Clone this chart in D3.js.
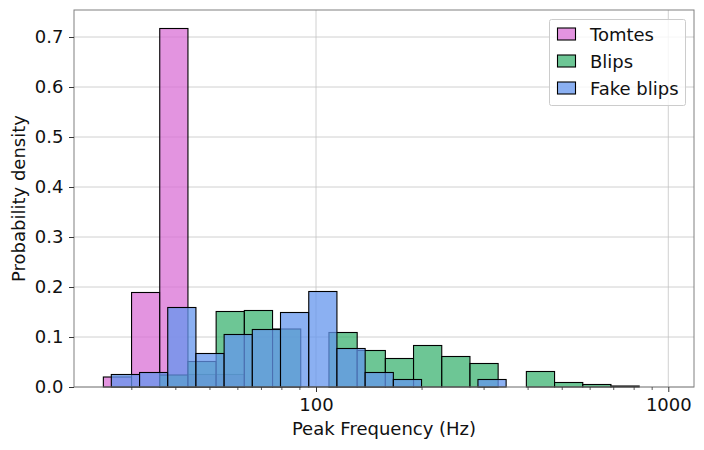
<!DOCTYPE html>
<html><head><meta charset="utf-8">
<script src="https://cdn.jsdelivr.net/npm/d3@7"></script>
<style>body{margin:0;background:#fff}svg{display:block;font-family:"DejaVu Sans",sans-serif}</style>
</head><body><svg id="c" width="704" height="450"></svg>
<script>
// Bin edges (Hz) and densities
const tomteEdges = [24.91, 29.95, 36.01, 43.30, 52.06, 62.60];
const tomteValues = [0.020, 0.189, 0.717, 0.025, 0.025];

const blipEdges = [36.01, 43.30, 52.06, 62.60, 75.27, 90.51, 108.82, 130.88, 157.35, 189.17, 227.47, 273.53, 328.85, 395.5, 475.5, 571.8, 687.5, 826.7];
const blipValues = [0.024, 0.051, 0.151, 0.153, 0.116, 0.0, 0.109, 0.073, 0.057, 0.083, 0.061, 0.047, 0.0, 0.031, 0.009, 0.005, 0.002];

const fakeEdges = [26.24, 31.56, 37.94, 45.62, 54.85, 65.95, 79.29, 95.37, 114.66, 137.89, 165.79, 199.34, 239.68, 288.2, 346.5];
const fakeValues = [0.025, 0.029, 0.159, 0.067, 0.105, 0.115, 0.149, 0.191, 0.077, 0.029, 0.015, 0.0, 0.0, 0.015];

const seriesNames = ["Tomtes", "Blips", "Fake blips"];
const seriesColors = ["orchid", "mediumseagreen", "cornflowerblue"];
const yTicks = [0.0, 0.1, 0.2, 0.3, 0.4, 0.5, 0.6, 0.7];
const xMajor = [100, 1000];
const xMinor = [30, 40, 50, 60, 70, 80, 90, 200, 300, 400, 500, 600, 700, 800, 900];

const series = [
  {edges: tomteEdges, values: tomteValues},
  {edges: blipEdges, values: blipValues},
  {edges: fakeEdges, values: fakeValues}
];

const L = 74, R = 694, T = 10, B = 387;
const x = d3.scaleLog().domain([20.56, 1183]).range([L, R]);
const y = d3.scaleLinear().domain([0, 0.754]).range([B, T]);
const svg = d3.select("#c");
const fs = 18;

// grid
const g = svg.append("g");
g.selectAll("line.gy").data(yTicks).enter().append("line")
  .attr("x1", L).attr("x2", R).attr("y1", d => y(d)).attr("y2", d => y(d))
  .attr("stroke", "#c4c4c4").attr("stroke-width", 0.8);
g.selectAll("line.gx").data(xMajor).enter().append("line")
  .attr("x1", d => x(d)).attr("x2", d => x(d)).attr("y1", T).attr("y2", B)
  .attr("stroke", "#c4c4c4").attr("stroke-width", 0.8);

// bars
series.forEach((s, i) => {
  const bins = s.values.map((v, j) => ({x0: s.edges[j], x1: s.edges[j + 1], v}))
    .filter(b => b.v > 0);
  svg.append("g").selectAll("rect").data(bins).enter().append("rect")
    .attr("x", b => x(b.x0)).attr("width", b => x(b.x1) - x(b.x0))
    .attr("y", b => y(b.v)).attr("height", b => y(0) - y(b.v))
    .attr("fill", seriesColors[i]).attr("fill-opacity", 0.75)
    .attr("stroke", "#000").attr("stroke-width", 1.1);
});

// spines
svg.append("rect").attr("x", L).attr("y", T).attr("width", R - L).attr("height", B - T)
  .attr("fill", "none").attr("stroke", "#808080").attr("stroke-width", 1);

// y axis
const yAxis = d3.axisLeft(y).tickValues(yTicks).tickFormat(d3.format(".1f")).tickSize(5).tickPadding(5.5);
const ya = svg.append("g").attr("transform", `translate(${L},0)`).call(yAxis);
ya.select(".domain").remove();
ya.selectAll("text").attr("font-size", fs).attr("fill", "#111").attr("font-family", "DejaVu Sans");
ya.selectAll("line").attr("stroke", "#333");

// x axis
const xAxis = d3.axisBottom(x).tickValues(xMajor).tickFormat(d3.format("d")).tickSize(5).tickPadding(6);
const xa = svg.append("g").attr("transform", `translate(0,${B})`).call(xAxis);
xa.select(".domain").remove();
xa.selectAll("text").attr("font-size", fs).attr("fill", "#111").attr("font-family", "DejaVu Sans");
xa.selectAll("line").attr("stroke", "#333");
svg.append("g").selectAll("line").data(xMinor).enter().append("line")
  .attr("x1", d => x(d)).attr("x2", d => x(d)).attr("y1", B).attr("y2", B + 3)
  .attr("stroke", "#333").attr("stroke-width", 0.8);

// labels
svg.append("text").attr("x", (L + R) / 2).attr("y", 435).attr("text-anchor", "middle")
  .attr("font-size", fs).attr("fill", "#111").text("Peak Frequency (Hz)");
svg.append("text").attr("transform", `translate(25,${(T + B) / 2}) rotate(-90)`)
  .attr("text-anchor", "middle").attr("font-size", fs).attr("fill", "#111").text("Probability density");

// legend
const lg = svg.append("g");
lg.append("rect").attr("x", 549.5).attr("y", 19.5).attr("width", 136).attr("height", 86).attr("rx", 2)
  .attr("fill", "#fff").attr("fill-opacity", 0.8).attr("stroke", "#cccccc");
seriesNames.forEach((n, i) => {
  const cy = 34 + i * 27;
  lg.append("rect").attr("x", 557.5).attr("y", cy - 6).attr("width", 18).attr("height", 12)
    .attr("fill", seriesColors[i]).attr("fill-opacity", 0.75).attr("stroke", "#000").attr("stroke-width", 1.1);
  lg.append("text").attr("x", 590).attr("y", cy + 6.5).attr("font-size", fs).attr("fill", "#111").text(n);
});
</script></body></html>
